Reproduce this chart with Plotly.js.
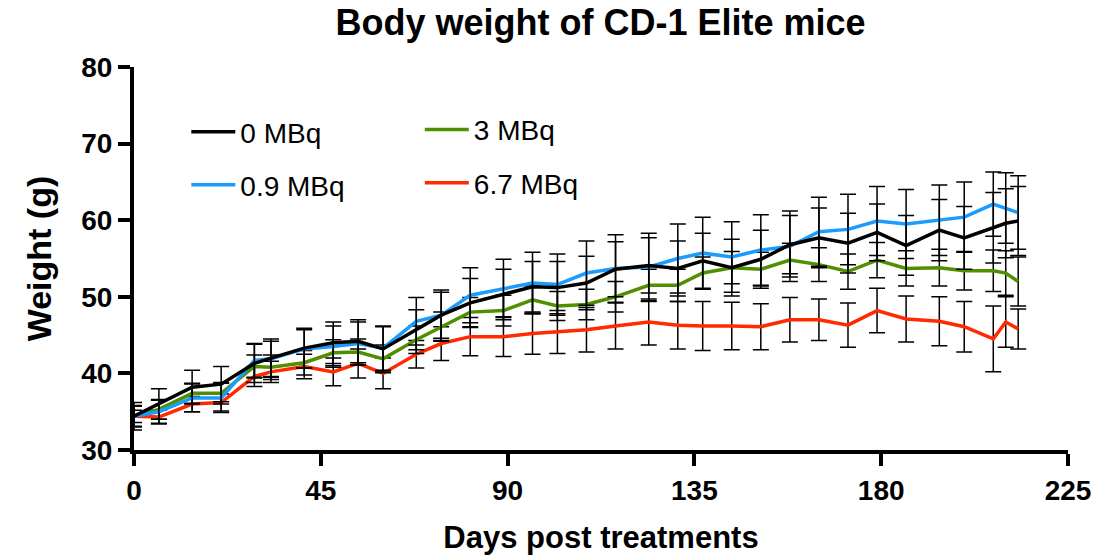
<!DOCTYPE html>
<html>
<head>
<meta charset="utf-8">
<script src="https://cdn.plot.ly/plotly-3.0.1.min.js"></script>
<style>html,body{margin:0;padding:0;background:#fff;}#chart{width:1102px;height:555px;}</style>
</head>
<body>
<div id="chart"></div>
<script>
const days = [0,6,14,21,29,33,41,48,54,60,68,74,81,89,96,102,109,116,124,131,137,144,151,158,165,172,179,186,194,200,207,210,213];

const w0 = [34.4,36.0,38.2,38.6,41.3,42.0,43.3,44.0,44.2,43.2,45.7,47.6,49.2,50.3,51.3,51.2,51.8,53.6,54.1,53.7,54.7,53.8,54.9,56.8,57.7,57.0,58.4,56.7,58.7,57.7,59.0,59.6,59.9];
const e0 = [1.8,2.0,2.2,2.3,2.5,2.5,2.6,2.7,2.8,2.9,2.6,3.0,3.2,3.3,3.3,3.4,3.5,3.6,3.6,3.6,3.6,3.7,3.8,3.8,3.9,3.9,3.7,3.9,4.0,4.1,4.6,4.5,4.5];

const w09 = [34.4,35.0,36.8,36.8,41.7,41.9,43.2,43.5,43.9,43.3,46.8,47.6,50.2,51.1,51.8,51.6,53.1,53.7,53.9,55.0,55.7,55.2,56.1,56.6,58.5,58.8,59.9,59.5,60.0,60.4,62.1,61.6,61.0];
const e09 = [1.3,1.5,1.8,1.9,2.2,2.3,2.5,2.7,2.8,2.9,3.1,3.3,3.6,3.8,4.0,4.0,4.2,4.4,4.4,4.5,4.7,4.6,4.6,4.6,4.5,4.6,4.5,4.5,4.6,4.6,4.2,4.6,4.8];

const w3 = [34.4,35.3,37.4,37.4,40.9,40.8,41.4,42.7,42.8,41.9,44.4,46.1,48.0,48.2,49.6,48.8,49.0,50.0,51.5,51.5,53.1,53.8,53.6,54.8,54.2,53.3,54.8,53.7,53.8,53.4,53.4,53.1,52.0];
const e3 = [1.4,1.3,1.3,1.4,1.5,1.6,1.6,1.7,1.7,1.8,1.8,1.9,1.9,2.0,1.8,1.9,2.0,2.0,2.1,2.1,2.1,2.1,2.2,2.2,2.2,2.3,2.3,2.3,2.4,2.5,2.7,2.9,3.2];

const w67 = [34.4,34.3,36.0,36.2,39.6,40.2,40.9,40.2,41.3,40.0,42.5,43.9,44.8,44.8,45.2,45.4,45.7,46.2,46.7,46.3,46.2,46.2,46.1,47.0,47.0,46.3,48.2,47.1,46.8,46.1,44.5,46.7,45.8];
const e67 = [0.8,0.9,1.0,1.1,1.3,1.4,1.6,1.8,1.9,2.0,1.8,2.2,2.5,2.6,2.7,2.8,2.9,3.0,3.0,3.1,3.2,3.1,3.0,2.9,2.7,2.9,2.9,3.0,3.2,3.3,4.3,3.3,2.6];

const names = ['0 MBq','0.9 MBq','3 MBq','6.7 MBq'];
const colors = ['#000000','#1a9cff','#4f8f00','#ff2a00'];

function mk(y, e, i, legend) {
  return {
    x: days, y: y, type: 'scatter', mode: 'lines', name: names[i],
    legend: legend,
    line: {color: colors[i], width: 3.5},
    error_y: {type: 'data', array: e, visible: true, color: '#000000', thickness: 1.5, width: 8}
  };
}

const data = [
  mk(w67, e67, 3, 'legend4'),
  mk(w3, e3, 2, 'legend3'),
  mk(w09, e09, 1, 'legend2'),
  mk(w0, e0, 0, 'legend')
];

const font = 'Liberation Sans, Arial, Helvetica, sans-serif';
function lg(x, y) {
  return {x: x, y: y, xanchor: 'left', yanchor: 'middle', bgcolor: 'rgba(0,0,0,0)',
          font: {size: 28, family: font}, itemwidth: 44, borderwidth: 0};
}
const layout = {
  width: 1102, height: 555,
  margin: {l: 134, r: 34, t: 67, b: 105},
  paper_bgcolor: '#fff', plot_bgcolor: '#fff',
  font: {family: font, color: '#000'},
  title: {text: '<b>Body weight of CD-1 Elite mice</b>', font: {size: 36, family: font, color: '#000'}, x: 0.545, xanchor: 'center', y: 0.96, yanchor: 'middle'},
  xaxis: {
    range: [0, 225], tickvals: [0,45,90,135,180,225], ticktext: ['0','45','90','135','180','225'],
    showgrid: false, zeroline: false, showline: true, linewidth: 4, linecolor: '#000',
    ticks: 'outside', ticklen: 12, tickwidth: 4, tickcolor: '#000',
    tickfont: {size: 28, family: font, weight: 'bold'},
    title: {text: '<b>Days post treatments</b>', font: {size: 31, family: font}, standoff: 26}
  },
  yaxis: {
    range: [30, 80], tickvals: [30,40,50,60,70,80],
    showgrid: false, zeroline: false, showline: true, linewidth: 4, linecolor: '#000',
    ticks: 'outside', ticklen: 12, tickwidth: 4, tickcolor: '#000',
    tickfont: {size: 28, family: font, weight: 'bold'},
    title: {text: '<b>Weight (g)</b>', font: {size: 34, family: font}, standoff: 20}
  },
  showlegend: true,
  legend: lg(0.056, 0.830),
  legend2: lg(0.056, 0.692),
  legend3: lg(0.306, 0.836),
  legend4: lg(0.306, 0.697)
};

Plotly.newPlot('chart', data, layout, {displayModeBar: false, staticPlot: true});
</script>
</body>
</html>
